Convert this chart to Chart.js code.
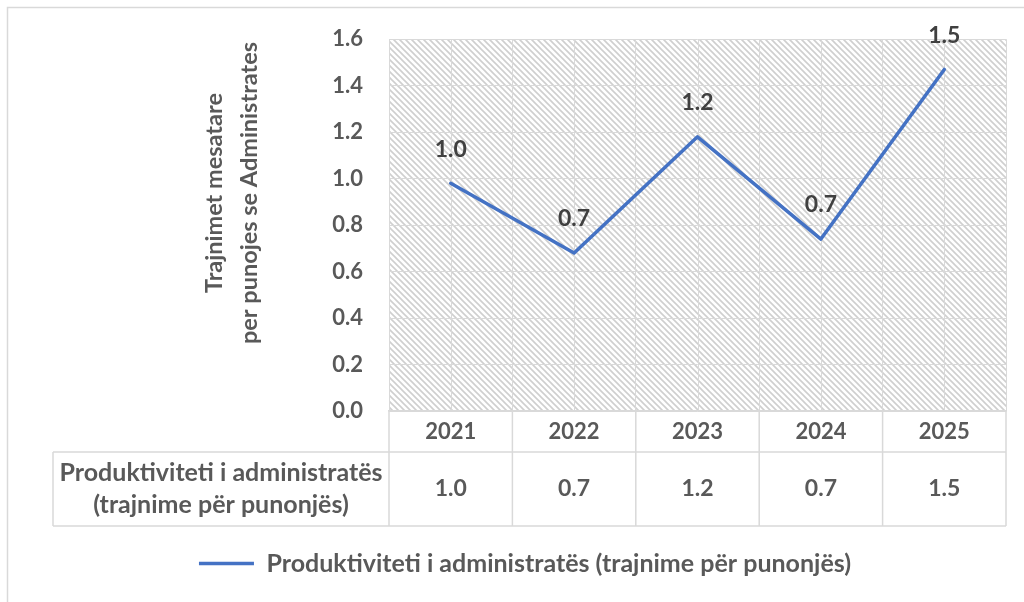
<!DOCTYPE html>
<html>
<head>
<meta charset="utf-8">
<script src="https://cdn.jsdelivr.net/npm/chart.js@4"></script>
<style>
  html, body { margin: 0; padding: 0; background: #fff; }
  #wrap { width: 1024px; height: 602px; }
</style>
</head>
<body>
<div id="wrap"><canvas id="chart" width="1024" height="602"></canvas></div>
<script>
// Data
const years = ['2021', '2022', '2023', '2024', '2025'];
const productivity = [0.98, 0.68, 1.18, 0.74, 1.47];
const yMin = 0;
const yMax = 1.6;
const yStep = 0.2;
const seriesName = 'Produktiviteti i administratës (trajnime për punonjës)';
const rowLabel = ['Produktiviteti i administratës', '(trajnime për punonjës)'];
const yTitle = ['Trajnimet mesatare', 'per punojes se Administrates'];

const FONT = 'Lato';
const GRID = '#d9d9d9';
const TEXT = '#595959';
const LABEL = '#404040';
const PAD_LEFT = 44;

// light diagonal hatch used as plot background
function makeHatch(ctx) {
  const c = document.createElement('canvas');
  c.width = 6; c.height = 6;
  const p = c.getContext('2d');
  p.strokeStyle = '#cfcfcf';
  p.lineWidth = 1.6;
  p.beginPath();
  p.moveTo(-1, -1); p.lineTo(7, 7);
  p.moveTo(-1, 5); p.lineTo(1, 7);
  p.moveTo(5, -1); p.lineTo(7, 1);
  p.stroke();
  return ctx.createPattern(c, 'repeat');
}

const backgroundPlugin = {
  id: 'background',
  beforeDraw(chart) {
    const { ctx, chartArea: a } = chart;
    ctx.save();
    // chart frame (top + left visible)
    ctx.strokeStyle = GRID;
    ctx.lineWidth = 1.5;
    ctx.beginPath();
    ctx.moveTo(7.5, chart.height);
    ctx.lineTo(7.5, 7.5);
    ctx.lineTo(chart.width, 7.5);
    ctx.stroke();
    ctx.fillStyle = makeHatch(ctx);
    ctx.fillRect(a.left, a.top, a.width, a.height);
    ctx.restore();
  },
  beforeDatasetsDraw(chart) {
    // extra vertical gridlines through the category centres
    const { ctx, chartArea: a } = chart;
    const x = chart.scales.x;
    ctx.save();
    ctx.strokeStyle = GRID;
    ctx.lineWidth = 1;
    ctx.beginPath();
    years.forEach((_, i) => {
      const px = Math.round(x.getPixelForValue(i)) + 0.5;
      ctx.moveTo(px, a.top);
      ctx.lineTo(px, a.bottom);
    });
    ctx.stroke();
    ctx.restore();
  }
};

const labelsPlugin = {
  id: 'valueLabels',
  afterDatasetsDraw(chart) {
    const { ctx } = chart;
    const meta = chart.getDatasetMeta(0);
    ctx.save();
    ctx.font = `bold 23px ${FONT}`;
    ctx.fillStyle = LABEL;
    ctx.textAlign = 'center';
    ctx.textBaseline = 'middle';
    meta.data.forEach((pt, i) => {
      ctx.fillText(productivity[i].toFixed(1), pt.x, pt.y - 34);
    });
    ctx.restore();
  }
};

// data table under the plot + rotated axis title
const tablePlugin = {
  id: 'dataTable',
  afterDraw(chart) {
    const { ctx, chartArea: a } = chart;
    const x = chart.scales.x;
    const colW = x.width / years.length;
    const top = a.bottom;
    const headBottom = top + 41;
    const rowBottom = top + 115;
    const labelLeft = 53;

    ctx.save();
    ctx.strokeStyle = GRID;
    ctx.lineWidth = 1.5;
    ctx.beginPath();
    ctx.moveTo(labelLeft, headBottom); ctx.lineTo(x.right, headBottom);
    ctx.moveTo(labelLeft, rowBottom); ctx.lineTo(x.right, rowBottom);
    ctx.moveTo(labelLeft, headBottom); ctx.lineTo(labelLeft, rowBottom);
    for (let i = 0; i <= years.length; i++) {
      const bx = x.left + i * colW;
      ctx.moveTo(bx, top); ctx.lineTo(bx, rowBottom);
    }
    ctx.stroke();

    ctx.fillStyle = TEXT;
    ctx.textAlign = 'center';
    ctx.textBaseline = 'middle';
    const midY = (headBottom + rowBottom) / 2;
    ctx.font = `bold 23px ${FONT}`;
    productivity.forEach((v, i) => {
      ctx.fillText(v.toFixed(1), x.getPixelForValue(i), midY);
    });
    ctx.font = `bold 25px ${FONT}`;
    const lx = (labelLeft + x.left) / 2;
    ctx.fillText(rowLabel[0], lx, midY - 16);
    ctx.fillText(rowLabel[1], lx, midY + 16);

    // y axis title, two rotated lines
    ctx.font = `bold 23.5px ${FONT}`;
    ctx.translate(214, 193);
    ctx.rotate(-Math.PI / 2);
    ctx.fillText(yTitle[0], 0, 0);
    ctx.fillText(yTitle[1], 0, 35);
    ctx.restore();
  }
};

const ctx = document.getElementById('chart').getContext('2d');
new Chart(ctx, {
  type: 'line',
  data: {
    labels: years,
    datasets: [{
      label: seriesName,
      data: productivity,
      borderColor: '#4472c4',
      backgroundColor: '#4472c4',
      borderWidth: 3.5,
      borderCapStyle: 'round',
      borderJoinStyle: 'round',
      pointRadius: 0,
      tension: 0,
      fill: false
    }]
  },
  options: {
    responsive: false,
    devicePixelRatio: 1,
    animation: false,
    layout: { padding: { left: PAD_LEFT, top: 37, right: 18, bottom: 16 } },
    plugins: {
      tooltip: { enabled: false },
      legend: {
        position: 'bottom',
        labels: {
          usePointStyle: true,
          pointStyle: 'line',
          pointStyleWidth: 55,
          padding: 10,
          color: TEXT,
          font: { family: FONT, weight: 'bold', size: 25 }
        }
      }
    },
    scales: {
      x: {
        offset: true,
        grid: { offset: true, color: GRID, lineWidth: 1, drawTicks: false },
        border: { display: true, color: GRID, width: 1.5 },
        ticks: { color: TEXT, padding: 8, font: { family: FONT, weight: 'bold', size: 22 } },
        afterFit(scale) { scale.height = 130; }
      },
      y: {
        min: yMin,
        max: yMax,
        grid: { color: GRID, lineWidth: 1, drawTicks: false },
        border: { display: false },
        ticks: {
          stepSize: yStep,
          padding: 26,
          color: TEXT,
          font: { family: FONT, weight: 'bold', size: 22 },
          callback: v => Number(v).toFixed(1)
        },
        afterFit(scale) { scale.width = 389 - PAD_LEFT; }
      }
    }
  },
  plugins: [backgroundPlugin, labelsPlugin, tablePlugin]
});
</script>
</body>
</html>
